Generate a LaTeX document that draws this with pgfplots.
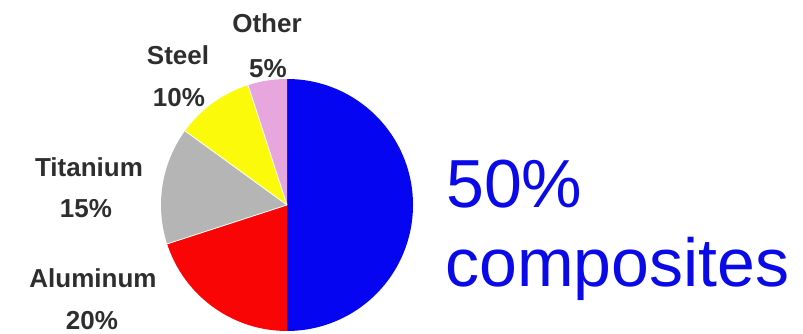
\documentclass[border=0pt]{standalone}
\usepackage{pgfplots}
\usepackage{pgfplotstable}
\pgfplotsset{compat=1.18}
\usepackage{fontspec}
\setmainfont{Liberation Sans}
\definecolor{cComp}{HTML}{0505F2}
\definecolor{cAlu}{HTML}{FA0505}
\definecolor{cTi}{HTML}{B5B5B5}
\definecolor{cSteel}{HTML}{FAFA0A}
\definecolor{cOther}{HTML}{E8A6DE}
\definecolor{cLab}{HTML}{2E2E2E}
\definecolor{cBig}{HTML}{0A0AE8}
\pgfplotstableread{
material value
Composites 50
Aluminum 20
Titanium 15
Steel 10
Other 5
}\piedata
\begin{document}
\begin{tikzpicture}[x=1pt,y=1pt]
\useasboundingbox (0,0) rectangle (803,334);
\pgfplotstablegetelem{0}{value}\of\piedata \let\vA\pgfplotsretval
\pgfplotstablegetelem{1}{value}\of\piedata \let\vB\pgfplotsretval
\pgfplotstablegetelem{2}{value}\of\piedata \let\vC\pgfplotsretval
\pgfplotstablegetelem{3}{value}\of\piedata \let\vD\pgfplotsretval
\pgfplotstablegetelem{4}{value}\of\piedata \let\vE\pgfplotsretval
\pgfmathsetmacro\aA{90}
\pgfmathsetmacro\aB{\aA-3.6*\vA}
\pgfmathsetmacro\aC{\aB-3.6*\vB}
\pgfmathsetmacro\aD{\aC-3.6*\vC}
\pgfmathsetmacro\aE{\aD-3.6*\vD}
\pgfmathsetmacro\aF{\aE-3.6*\vE}
\def\R{126pt}
\begin{axis}[x=1pt,y=1pt,xmin=0,xmax=803,ymin=0,ymax=334,hide axis,
  at={(0,0)},anchor=south west,clip=false]
\fill[cComp]  (axis cs:287,129) -- ++(\aA:\R) arc[start angle=\aA,end angle=\aB,radius=\R] -- cycle;
\fill[cAlu]   (axis cs:287,129) -- ++(\aB:\R) arc[start angle=\aB,end angle=\aC,radius=\R] -- cycle;
\fill[cTi]    (axis cs:287,129) -- ++(\aC:\R) arc[start angle=\aC,end angle=\aD,radius=\R] -- cycle;
\fill[cSteel] (axis cs:287,129) -- ++(\aD:\R) arc[start angle=\aD,end angle=\aE,radius=\R] -- cycle;
\fill[cOther] (axis cs:287,129) -- ++(\aE:\R) arc[start angle=\aE,end angle=\aF,radius=\R] -- cycle;
\draw[white,line width=0.8pt] (axis cs:287,129) -- ++(\aC:\R);
\draw[white,line width=0.8pt] (axis cs:287,129) -- ++(\aD:\R);
\draw[white,line width=0.8pt] (axis cs:287,129) -- ++(\aE:\R);
\begin{scope}[every node/.style={font=\fontsize{26}{30}\selectfont\bfseries,text=cLab,anchor=base,inner sep=0pt}]
\node at (axis cs:267,301) {Other};
\node at (axis cs:268,256) {5\%};
\node at (axis cs:178,269) {Steel};
\node at (axis cs:179,227) {10\%};
\node at (axis cs:89,157) {Titanium};
\node at (axis cs:86,116) {15\%};
\node at (axis cs:93,46) {Aluminum};
\node at (axis cs:92,4) {20\%};
\end{scope}
\begin{scope}[every node/.style={font=\fontsize{68}{80}\selectfont,text=cBig,anchor=base west,inner sep=0pt}]
\node at (axis cs:446,126) {50\%};
\node at (axis cs:445,47) {composites};
\end{scope}
\end{axis}
\end{tikzpicture}
\end{document}
